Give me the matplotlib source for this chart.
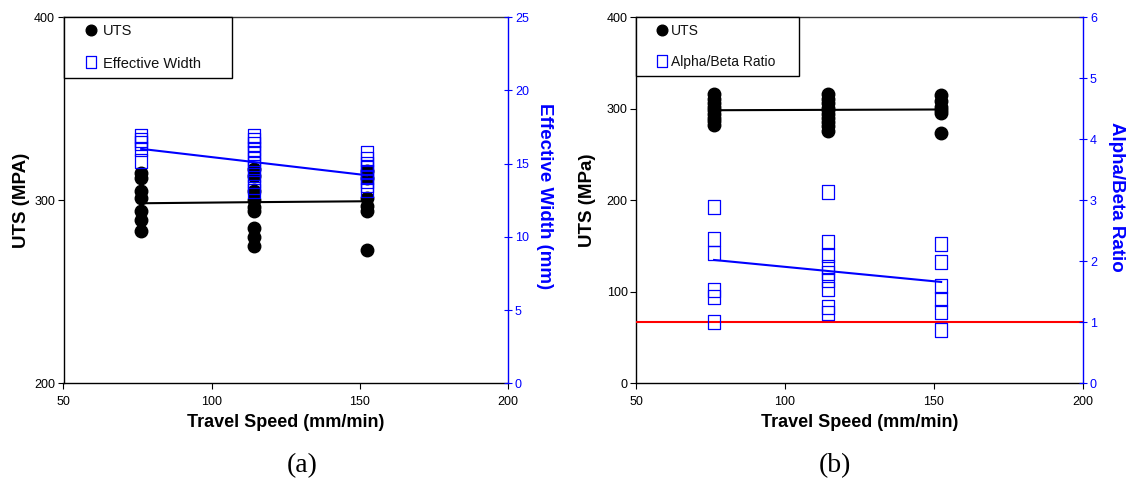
import numpy as np
import matplotlib
matplotlib.use("Agg")
import matplotlib.pyplot as plt
from matplotlib.path import Path

plt.rcParams['font.family'] = ['Liberation Sans', 'DejaVu Sans']

# ---------------- data ----------------
speeds = [76.2, 114.3, 152.4]

# panel (a)
uts_a_76 = [315, 312, 305, 301, 294, 289, 283]
uts_a_114 = [317, 313, 305, 300, 296, 294, 285, 280, 275]
uts_a_152 = [316, 312, 301, 297, 294, 273]
uts_a_trend = [298.3, 298.9, 299.4]

width_76 = [16.9, 16.6, 16.4, 16.0, 15.2]
width_114 = [16.9, 16.6, 16.3, 16.0, 15.7, 15.3, 15.0, 14.6, 14.2, 13.8, 13.4, 13.1]
width_152 = [15.7, 15.3, 15.0, 14.7, 14.4, 14.1, 13.8, 13.5, 13.2]
width_trend = [16.0, 15.1, 14.2]

# panel (b)
uts_b_76 = [316, 311, 306, 302, 298, 294, 290, 286, 282]
uts_b_114 = [316, 311, 306, 301, 298, 294, 290, 285, 281, 276]
uts_b_152 = [315, 308, 302, 298, 295, 273]
uts_b_trend = [298.2, 298.6, 299.0]

ratio_76 = [2.89, 2.37, 2.13, 1.53, 1.42, 1.01]
ratio_114 = [3.13, 2.32, 2.10, 1.90, 1.81, 1.69, 1.54, 1.25, 1.15]
ratio_152 = [2.28, 1.98, 1.60, 1.38, 1.16, 0.87]
ratio_trend = [2.02, 1.84, 1.66]
ratio_ref = 1.0

x_ticks = [50, 100, 150, 200]
BLUE = '#0000ff'

# tall square marker
sq = Path([(-0.42, -0.5), (0.42, -0.5), (0.42, 0.5), (-0.42, 0.5), (-0.42, -0.5)],
          [Path.MOVETO, Path.LINETO, Path.LINETO, Path.LINETO, Path.CLOSEPOLY])

W, H = 1128, 484
fig = plt.figure(figsize=(W / 100, H / 100), dpi=100)


def make_panel(left_px, right_px, ylim, yticks, ylim2, yticks2,
               uts_groups, uts_trend, sec_groups, sec_trend,
               ylabel, ylabel2, leg_label2, leg_w_px, leg_h_px, leg_fs,
               hl, htp, ylab_x_px, ylab2_x_px, caption, cap_x_px, ref=None):
    top_px, bot_px = 17, 383.3
    ax = fig.add_axes([left_px / W, (H - bot_px) / H,
                       (right_px - left_px) / W, (bot_px - top_px) / H])
    ax2 = ax.twinx()
    ax.set_xlim(50, 200)
    ax.set_xticks(x_ticks)
    ax.set_ylim(*ylim)
    ax.set_yticks(yticks)
    ax2.set_ylim(*ylim2)
    ax2.set_yticks(yticks2)

    for sp in ['left', 'bottom']:
        ax.spines[sp].set_linewidth(1.0)
        ax.spines[sp].set_color('black')
    ax.spines['top'].set_color('#333333')
    ax.spines['top'].set_linewidth(1.0)
    ax.spines['right'].set_visible(False)
    for sp in ['left', 'bottom', 'top']:
        ax2.spines[sp].set_visible(False)
    ax2.spines['right'].set_color(BLUE)
    ax2.spines['right'].set_linewidth(1.0)

    ax.tick_params(axis='both', labelsize=9, length=4, width=0.8,
                   direction='out', pad=2, colors='black')
    ax.tick_params(axis='x', pad=5)
    ax2.tick_params(axis='y', labelsize=9, length=6, width=0.8,
                    direction='inout', colors=BLUE, pad=2)

    # UTS data
    circ_kw = dict(marker='o', markersize=9, color='black', mec='black')
    for i, (s, vals) in enumerate(zip(speeds, uts_groups)):
        ax.plot([s] * len(vals), vals, linestyle='none',
                label='UTS' if i == 0 else None, zorder=3, **circ_kw)
    ax.plot(speeds, uts_trend, color='black', lw=1.5, zorder=4)

    # secondary data
    if ref is not None:
        ax2.axhline(ref, color='red', lw=1.5, zorder=1)
    for i, (s, vals) in enumerate(zip(speeds, sec_groups)):
        ax2.plot([s] * len(vals), vals, linestyle='none', marker=sq,
                 markersize=10.5, mfc='none', mec=BLUE, mew=0.9,
                 label=leg_label2 if i == 0 else None, zorder=3)
    ax2.plot(speeds, sec_trend, color=BLUE, lw=1.5, zorder=4)

    # legend
    h1, l1 = ax.get_legend_handles_labels()
    h2, l2 = ax2.get_legend_handles_labels()
    aw = right_px - left_px
    ah = bot_px - top_px
    leg = ax2.legend(h1 + h2, l1 + l2,
                     bbox_to_anchor=(0, 1 - leg_h_px / ah, leg_w_px / aw, leg_h_px / ah),
                     loc='upper left', mode='expand', borderaxespad=0,
                     fancybox=False, frameon=True, fontsize=leg_fs,
                     handlelength=hl, handletextpad=htp, borderpad=0.5,
                     labelspacing=1.25, markerscale=0.85, framealpha=1)
    leg.get_frame().set_edgecolor('black')
    leg.get_frame().set_linewidth(1.0)
    for t in leg.get_texts():
        t.set_color('#111111')
    leg.set_zorder(10)

    # labels
    ax.text(0.5, -0.108, 'Travel Speed (mm/min)', transform=ax.transAxes,
            ha='center', va='center', fontsize=13, fontweight='bold')
    ax.text((ylab_x_px - left_px) / aw, 0.5, ylabel, transform=ax.transAxes,
            ha='center', va='center', rotation=90, fontsize=13.5,
            fontweight='bold')
    ax.text((ylab2_x_px - left_px) / aw, 0.5 + 0.01, ylabel2, transform=ax.transAxes,
            ha='center', va='center', rotation=-90, fontsize=13.5,
            fontweight='bold', color=BLUE)
    fig.text(cap_x_px / W, 1 - 466 / H, caption, ha='center', va='center',
             fontsize=20, family='Liberation Serif')
    return ax, ax2


make_panel(63.5, 508, (200, 400), [200, 300, 400], (0, 25), [0, 5, 10, 15, 20, 25],
           [uts_a_76, uts_a_114, uts_a_152], uts_a_trend,
           [width_76, width_114, width_152], width_trend,
           'UTS (MPA)', 'Effective Width (mm)', 'Effective Width',
           168, 67, 10.5, 2.8, -0.6, 22, 544, '(a)', 302)

make_panel(636, 1083, (0, 400), [0, 100, 200, 300, 400], (0, 6), [0, 1, 2, 3, 4, 5, 6],
           [uts_b_76, uts_b_114, uts_b_152], uts_b_trend,
           [ratio_76, ratio_114, ratio_152], ratio_trend,
           'UTS (MPa)', 'Alpha/Beta Ratio', 'Alpha/Beta Ratio',
           163, 57, 10, 2.78, -0.74, 588, 1117, '(b)', 835, ref=ratio_ref)

fig.savefig('out.png', dpi=100)
